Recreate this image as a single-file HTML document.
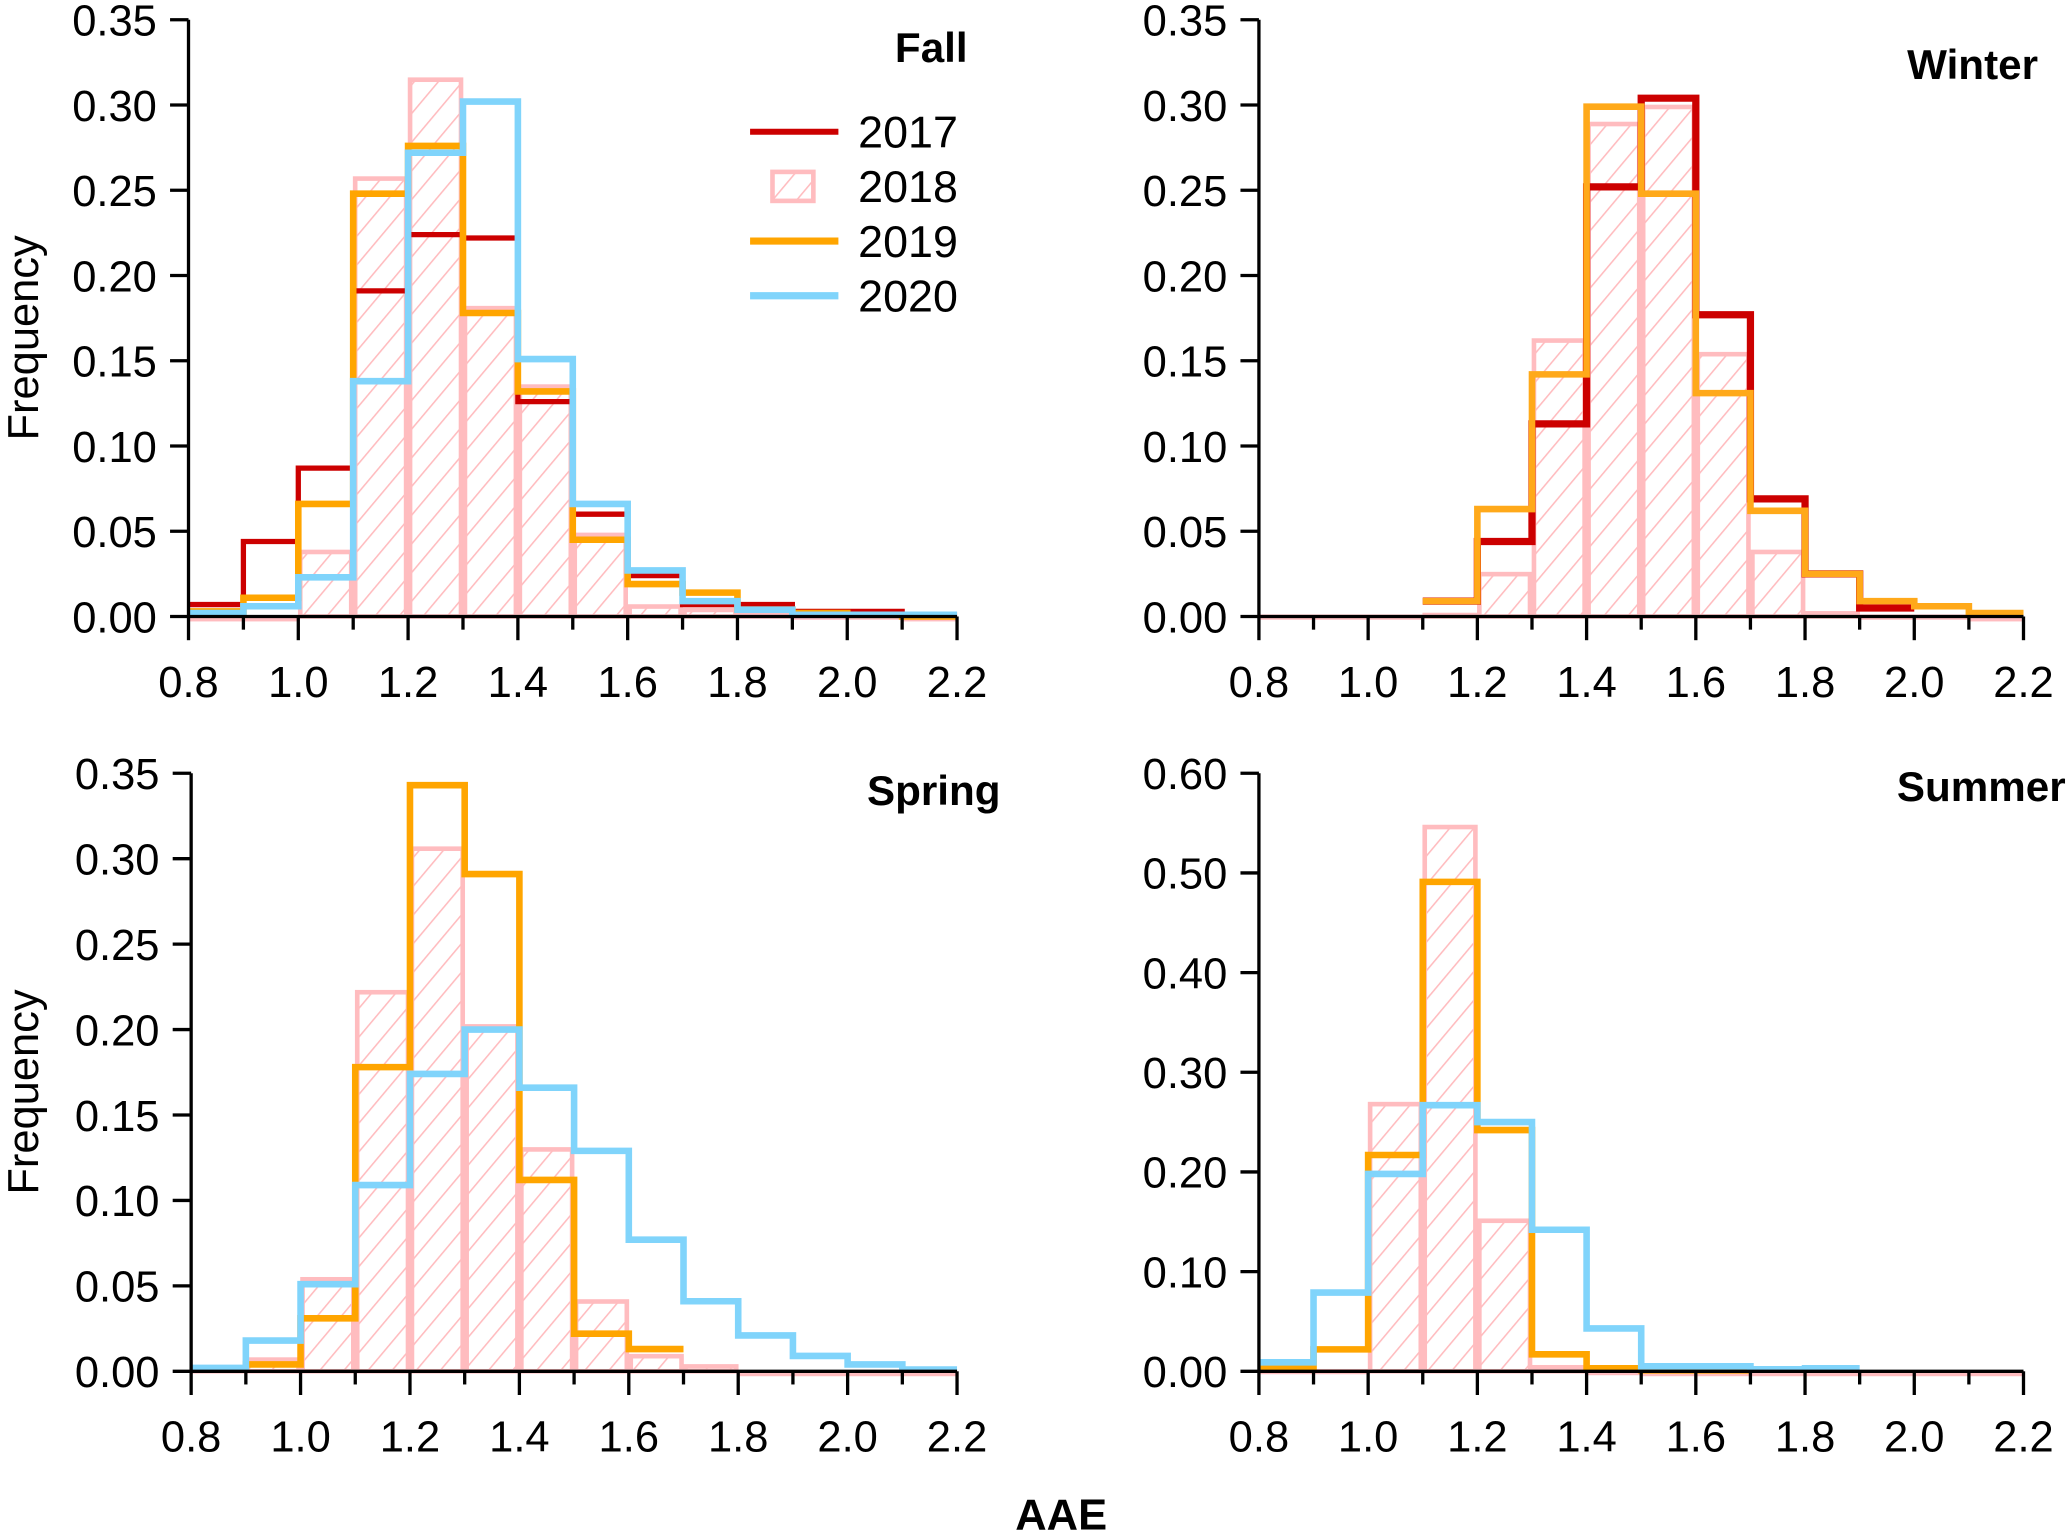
<!DOCTYPE html>
<html><head><meta charset="utf-8"><style>
html,body{margin:0;padding:0;background:#fff;}
svg{display:block;}
text{font-family:"Liberation Sans",Arial,sans-serif;}
</style></head><body>
<svg id="chart" width="2067" height="1532" viewBox="0 0 1568 1163" preserveAspectRatio="none" xmlns="http://www.w3.org/2000/svg">
<defs>
<pattern id="hatch" patternUnits="userSpaceOnUse" width="14" height="14" patternTransform="rotate(40)">
<line x1="0" y1="0" x2="0" y2="14" stroke="#ffbcbf" stroke-width="2.4"/>
</pattern>
</defs>
<g id="root"></g>
</svg>
<script>
const binStarts = [0.8,0.9,1.0,1.1,1.2,1.3,1.4,1.5,1.6,1.7,1.8,1.9,2.0,2.1];
const xTickLabels = ["0.8","1.0","1.2","1.4","1.6","1.8","2.0","2.2"];
const yTicksSmall = ["0.00","0.05","0.10","0.15","0.20","0.25","0.30","0.35"];
const yTicksSummer = ["0.00","0.10","0.20","0.30","0.40","0.50","0.60"];
const seriesYears = ["2017","2018","2019","2020"];

const fall2017 = [0.007,0.044,0.087,0.191,0.224,0.222,0.126,0.060,0.024,0.007,0.007,0.003,0.003,0.001];
const fall2018 = [0,0,0.039,0.258,0.316,0.182,0.136,0.049,0.007,0.005,0.003,0.001,0.001,0];
const fall2019 = [0.003,0.011,0.066,0.248,0.276,0.178,0.132,0.045,0.019,0.014,0.004,0.002,0.001,0];
const fall2020 = [0.002,0.006,0.023,0.138,0.272,0.302,0.151,0.066,0.027,0.009,0.004,0.001,0.001,0.001];

const winter2017 = [null,null,null,0.009,0.044,0.113,0.252,0.304,0.177,0.069,0.025,0.005,null,null];
const winter2018 = [0.001,0.001,0.001,0.002,0.026,0.163,0.290,0.300,0.155,0.039,0.003,0.001,0.001,0];
const winter2019 = [null,null,null,0.009,0.063,0.142,0.299,0.248,0.131,0.062,0.025,0.009,0.006,0.002];

const spring2018 = [0.002,0.008,0.055,0.223,0.307,0.203,0.131,0.042,0.010,0.004,0,0,0,0];
const spring2019 = [0.001,0.004,0.031,0.178,0.343,0.291,0.112,0.022,0.013,null,null,null,null,null];
const spring2020 = [0.002,0.018,0.051,0.109,0.174,0.200,0.166,0.129,0.077,0.041,0.021,0.009,0.004,0.001];

const summer2018 = [0.002,0.002,0.270,0.548,0.153,0.006,0.001,0,0,0,0,0,0,0];
const summer2019 = [0.003,0.022,0.217,0.491,0.242,0.017,0.003,0.001,0.001,null,null,null,null,null];
const summer2020 = [0.009,0.079,0.198,0.267,0.250,0.142,0.043,0.005,0.005,0.002,0.003,null,null,null];

const NS="http://www.w3.org/2000/svg";
const root=document.getElementById('root');
function mk(tag,attrs,parent){const e=document.createElementNS(NS,tag);for(const k in attrs)e.setAttribute(k,attrs[k]);(parent||root).appendChild(e);return e;}

const panels=[
 {name:'fall',title:'Fall',tx:734,ty:47,x0:143,x1:726,y0:468,y1:15,ymax:0.35,yt:yTicksSmall,pink:fall2018,lines:[[fall2017,'#cc0000',4,'2017'],[fall2019,'#ffa500',5,'2019'],[fall2020,'#80d4fb',5,'2020']],ylab:true},
 {name:'winter',title:'Winter',tx:1546,ty:60,x0:955,x1:1535,y0:468,y1:15,ymax:0.35,yt:yTicksSmall,pink:winter2018,lines:[[winter2017,'#cc0000',5.5,'2017'],[winter2019,'#ffa91a',5,'2019']],ylab:false},
 {name:'spring',title:'Spring',tx:759,ty:611,x0:145,x1:726,y0:1041,y1:587,ymax:0.35,yt:yTicksSmall,pink:spring2018,lines:[[spring2019,'#ffa500',5,'2019'],[spring2020,'#80d4fb',5,'2020']],ylab:true},
 {name:'summer',title:'Summer',tx:1567,ty:608,x0:955,x1:1535,y0:1041,y1:587,ymax:0.60,yt:yTicksSummer,pink:summer2018,lines:[[summer2019,'#ffa500',5,'2019'],[summer2020,'#80d4fb',5,'2020']],ylab:false}
];

panels.forEach(p=>{
 const g=mk('g',{});
 
 
 const xs=v=>p.x0+(v-0.8)/1.4*(p.x1-p.x0);
 const ys=v=>p.y0-v/p.ymax*(p.y0-p.y1);
 p.pink.forEach((v,i)=>{
  if(v===null) return;
  const h=Math.max(p.y0-ys(v),0);
  const r=mk('rect',{x:xs(binStarts[i])+1.5,y:ys(v)+1.5,width:xs(binStarts[i]+0.1)-xs(binStarts[i])-3,height:Math.max(h-1.5,0.5),fill:'url(#hatch)',stroke:'#ffbcbf','stroke-width':3.5},g);
  
  
 });
 p.lines.forEach(L=>{
  const vals=L[0];let d='';let prev=null;
  vals.forEach((v,i)=>{
   if(v===null){prev=null;return;}
   const xa=xs(binStarts[i]),xb=xs(binStarts[i]+0.1),y=ys(v);
   if(prev===null) d+=`M${xa},${y}`; else d+=`L${xa},${y}`;
   d+=`L${xb},${y}`;prev=v;
  });
  const path=mk('path',{d:d,fill:'none',stroke:L[1],'stroke-width':L[2],'stroke-linejoin':'miter'},g);
  
  
 });
 const ax=mk('path',{d:`M${p.x0},${p.y1}L${p.x0},${p.y0}L${p.x1},${p.y0}`,fill:'none',stroke:'#000','stroke-width':2.5},g);
 
 
 for(let k=0;k<=14;k++){
  const x=xs(0.8+k*0.1);
  mk('line',{x1:x,y1:p.y0,x2:x,y2:p.y0+(k%2===0?18:10),stroke:'#000','stroke-width':2.5},g);
 }
 xTickLabels.forEach((t,k)=>{
  const tx=mk('text',{x:xs(parseFloat(t)),y:p.y0+61,'text-anchor':'middle','font-size':33,fill:'#000'},g);
  tx.textContent=t;
  
  
 });
 p.yt.forEach(t=>{
  const y=ys(parseFloat(t));
  mk('line',{x1:p.x0-14,y1:y,x2:p.x0,y2:y,stroke:'#000','stroke-width':2.5},g);
  const tx=mk('text',{x:p.x0-24,y:y+12,'text-anchor':'end','font-size':33,fill:'#000'},g);
  tx.textContent=t;
  
  
 });
 const ti=mk('text',{x:p.tx,y:p.ty,'text-anchor':'end','font-size':32,'font-weight':'bold',fill:'#000'},g);
 ti.textContent=p.title;
 
 
 if(p.ylab){
  const cy=(p.y0+p.y1)/2+15;
  const yl=mk('text',{x:0,y:0,transform:`translate(29,${cy}) rotate(-90)`,'text-anchor':'middle','font-size':33,fill:'#000'},g);
  yl.textContent='Frequency';
  
  
 }
});

const lg=mk('g',{});


const legColors={'2017':'#cc0000','2019':'#ffa500','2020':'#80d4fb'};
seriesYears.forEach((yr,i)=>{
 const y=100+i*41.5;
 const e=mk('g',{},lg);
 
 
 if(yr==='2018'){
  mk('rect',{x:586,y:y-11,width:31,height:22,fill:'url(#hatch)',stroke:'#ffbcbf','stroke-width':3.5},e);
 } else {
  mk('line',{x1:569,y1:y,x2:636,y2:y,stroke:legColors[yr],'stroke-width':yr==='2017'?4.5:5.5},e);
 }
 const t=mk('text',{x:651,y:y+12,'font-size':34,fill:'#000'},e);
 t.textContent=yr;
});

const xt=mk('text',{x:805,y:1161,'text-anchor':'middle','font-size':33,'font-weight':'bold',fill:'#000'});
xt.textContent='AAE';


</script>
</body></html>
